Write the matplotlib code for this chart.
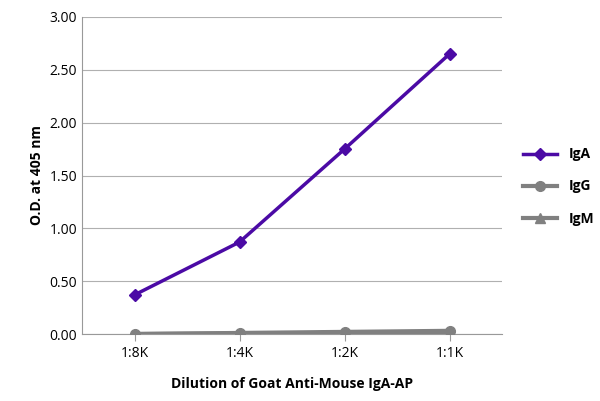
import matplotlib
matplotlib.use("Agg")
import matplotlib.pyplot as plt

categories = ["1:8K", "1:4K", "1:2K", "1:1K"]
iga = [0.37, 0.87, 1.75, 2.65]
igg = [0.00, 0.01, 0.02, 0.03]
igm = [0.00, 0.005, 0.01, 0.02]
yticks = [0.0, 0.5, 1.0, 1.5, 2.0, 2.5, 3.0]

plt.rcParams["font.family"] = "Open Sans"
fig = plt.figure(figsize=(6, 4.01), dpi=100)
ax = fig.add_axes([82/600, 67/401, 420/600, 317/401])
x = range(len(categories))
ax.plot(x, igg, color="#808080", marker="o", lw=3, ms=7, label="IgG", zorder=3)
ax.plot(x, igm, color="#808080", marker="^", lw=3, ms=7, label="IgM", zorder=3)
ax.plot(x, iga, color="#4B0AA5", marker="D", lw=2.5, ms=6, label="IgA", zorder=4)
ax.set_xlim(-0.5, 3.5)
ax.set_ylim(0, 3.0)
ax.set_yticks(yticks)
ax.set_yticklabels([f"{v:.2f}" for v in yticks], fontsize=10)
ax.set_xticks(list(x))
ax.set_xticklabels(categories, fontsize=10)
ax.grid(axis="y", color="#b0b0b0", lw=0.8)
ax.set_axisbelow(True)
for s in ["top", "right"]:
    ax.spines[s].set_visible(False)
ax.spines["left"].set_color("#999999")
ax.spines["bottom"].set_color("#999999")
ax.tick_params(axis="y", length=0)
ax.tick_params(axis="x", length=5, color="#999999")
ax.set_ylabel("O.D. at 405 nm", fontsize=10, fontweight="bold")
ax.set_xlabel("Dilution of Goat Anti-Mouse IgA-AP", fontsize=10, fontweight="bold", labelpad=12)
h, l = ax.get_legend_handles_labels()
order = [2, 0, 1]
leg = fig.legend([h[i] for i in order], [l[i] for i in order], loc="center left",
                 bbox_to_anchor=(510/600, 0.535), frameon=False, prop={"weight": "bold", "size": 10},
                 labelspacing=1.3, handlelength=2.5)
fig.savefig("out.png", dpi=100)
